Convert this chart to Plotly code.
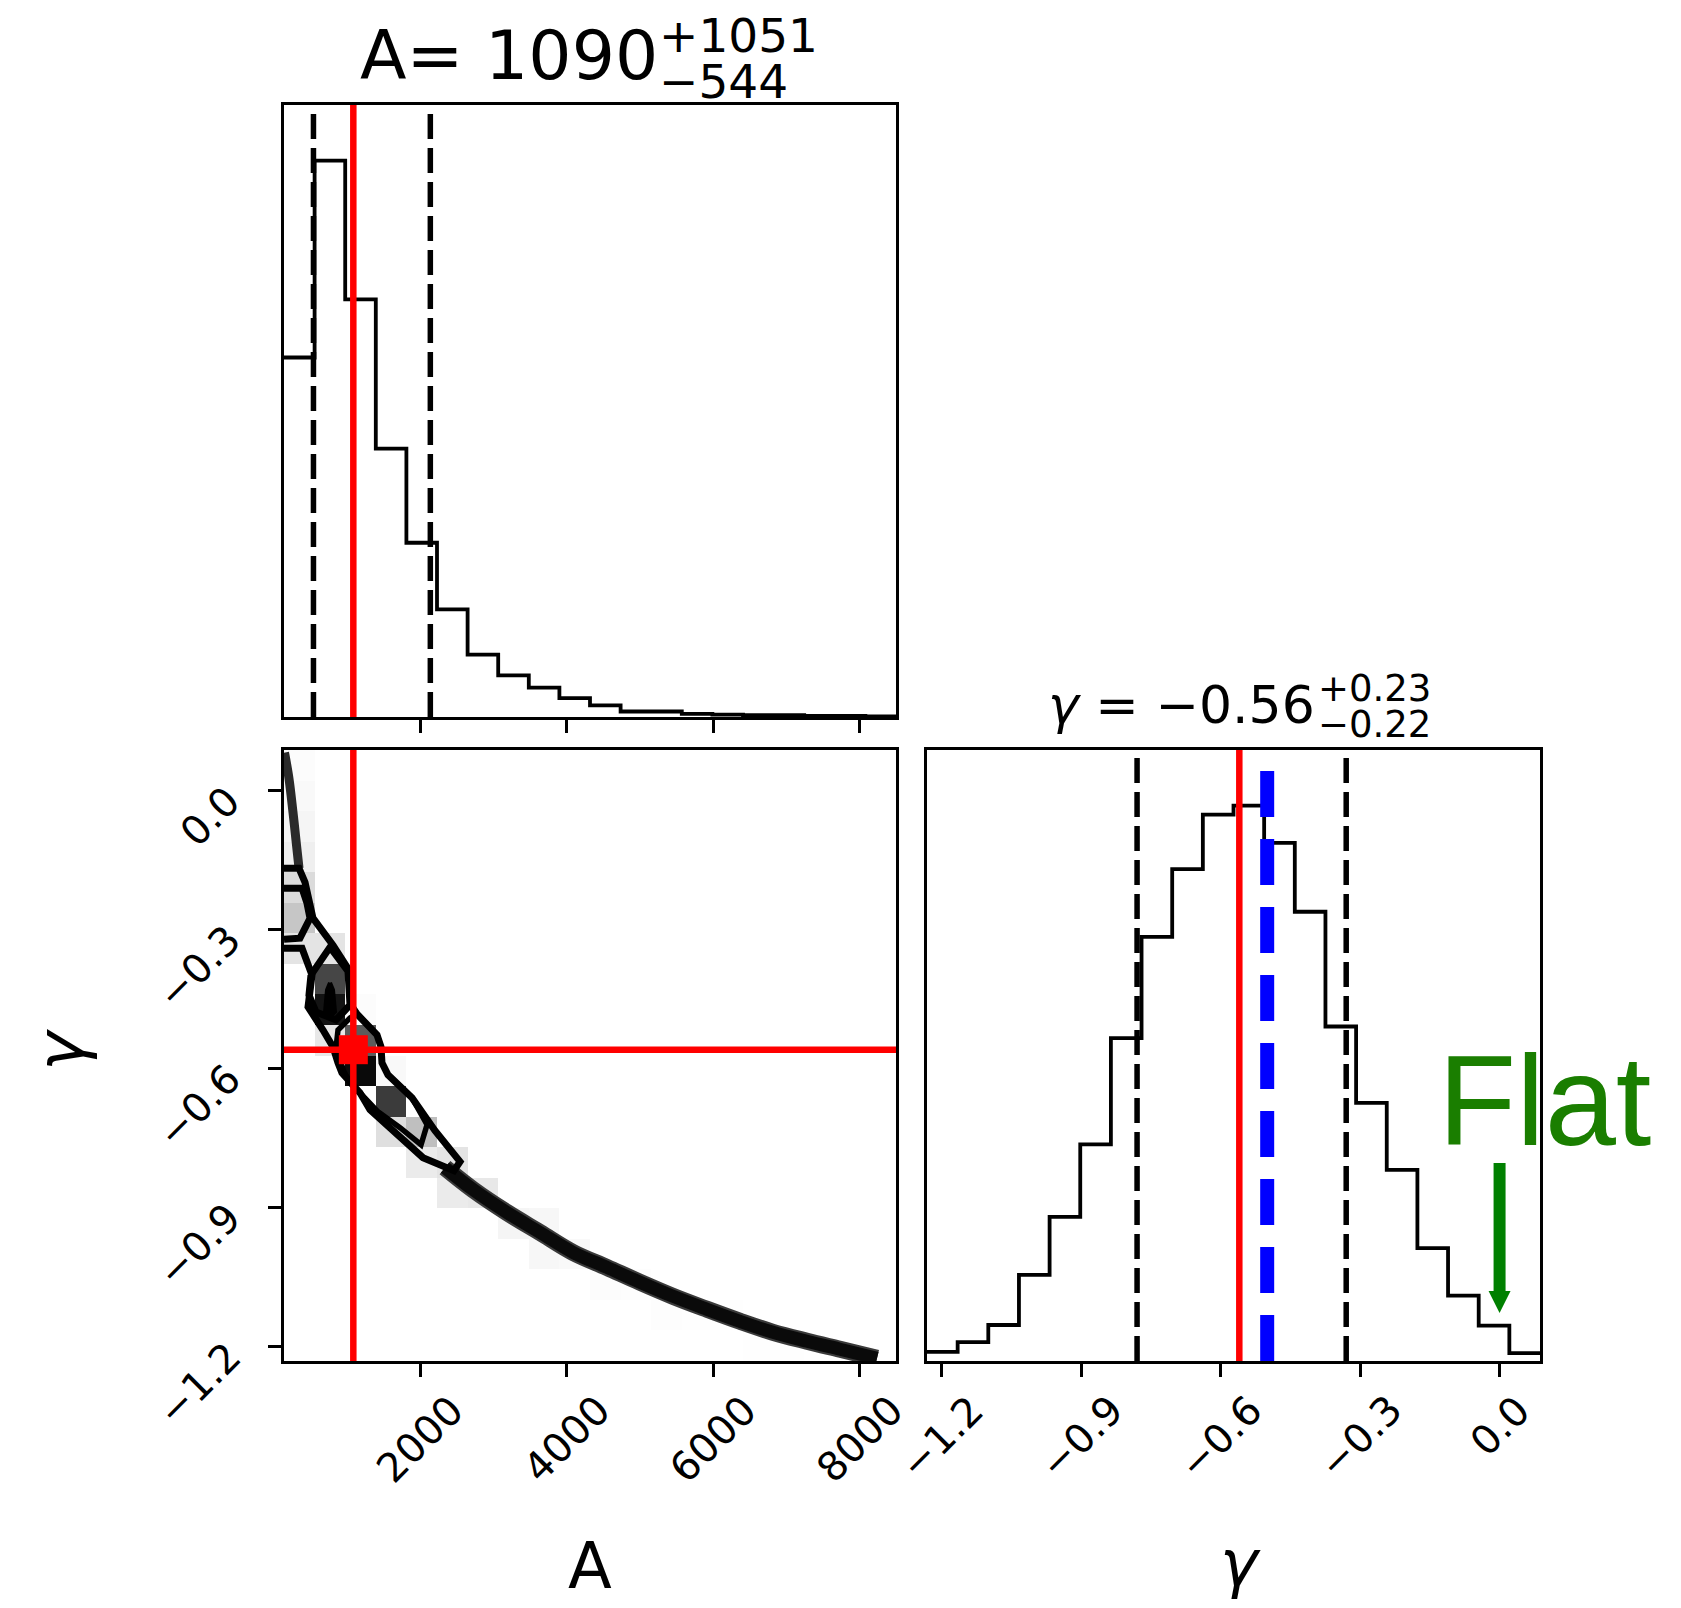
import numpy as np
import plotly.graph_objects as go

# ---------------- data ----------------
A_RANGE = [144, 8496]
G_RANGE = [-1.232, 0.087]
N_BINS = 20

A_hist_counts = [588, 910, 683, 439, 285, 176, 102, 68, 48, 31, 19, 9, 9, 5, 4, 3, 3, 2, 2, 1]
g_hist_counts = [15, 31, 59, 141, 236, 355, 529, 695, 806, 895, 910, 849, 736, 548, 423, 313, 185, 107, 58, 13]

A_best, A_err_lo, A_err_hi = 1090, 544, 1051
g_best, g_err_lo, g_err_hi = -0.56, 0.22, 0.23
g_blue = -0.50
g_flat = 0.0

A_ticks = [2000, 4000, 6000, 8000]
A_tick_labels = ["2000", "4000", "6000", "8000"]
g_ticks = [-1.2, -0.9, -0.6, -0.3, 0.0]
g_tick_labels = ["\u22121.2", "\u22120.9", "\u22120.6", "\u22120.3", "0.0"]

# 2D density cells (A bin index, gamma bin index from bottom, relative density)
cell_A_bin = [0, 0, 0, 0, 0, 0, 0, 1, 1, 1, 1, 2, 2, 2, 3, 3, 3, 4, 4, 5, 5, 6, 7, 8, 8, 9, 10, 11, 12, 13, 14, 15, 16]
cell_g_bin = [19, 18, 17, 16, 15, 14, 13, 13, 12, 11, 10, 11, 10, 9, 9, 8, 7, 7, 6, 6, 5, 5, 4, 4, 3, 3, 2, 2, 1, 1, 1, 0, 0]
cell_density = [0.10, 0.14, 0.20, 0.25, 0.37, 0.47, 0.32, 0.32, 0.85, 0.96, 0.30, 0.10, 0.80, 0.98,
                0.15, 0.875, 0.35, 0.50, 0.28, 0.32, 0.28, 0.30, 0.20, 0.17, 0.17, 0.14, 0.10, 0.08,
                0.07, 0.05, 0.04, 0.03, 0.03]

# sample band outside the contours
band_upper_A = [151, 212, 267, 315, 349]
band_upper_g = [0.0814, 0.0254, -0.0478, -0.1189, -0.1684]
band_lower_A = [2341, 2723, 3187, 3638, 4088, 4552, 5002, 5453, 5917, 6367, 6817, 7281, 7732, 8237]
band_lower_g = [-0.8146, -0.862, -0.9115, -0.9546, -0.9976, -1.030, -1.062, -1.0924, -1.1204,
                -1.1463, -1.170, -1.1893, -1.2066, -1.226]

# contour lines
contour_outer_A = [144, 349, 431, 485, 540, 813, 1031, 1058, 1140, 1413, 1468, 1481, 1563, 1891, 2068,
                   2205, 2546, 2464, 2041, 1618, 1318, 1181, 1004, 935, 881, 813, 676, 472, 526, 390, 144]
contour_outer_g = [-0.1684, -0.1684, -0.1986, -0.2309, -0.2761, -0.3343, -0.3881, -0.4635, -0.4829,
                   -0.5281, -0.5540, -0.5884, -0.6143, -0.6638, -0.7069, -0.7349, -0.8017, -0.8211,
                   -0.7931, -0.7327, -0.6897, -0.6531, -0.6251, -0.6100, -0.5884, -0.5540, -0.5174,
                   -0.4678, -0.3989, -0.3408, -0.3408]
contour_upper_A = [144, 390, 458, 499, 362, 144]
contour_upper_g = [-0.2115, -0.2115, -0.2438, -0.2761, -0.3192, -0.3214]
contour_core_A = [512, 772, 1017, 1045, 854, 581, 485, 512]
contour_core_g = [-0.3989, -0.3386, -0.3903, -0.4635, -0.4958, -0.4786, -0.4420, -0.3989]
contour_peak_A = [772, 813, 840, 772, 704, 731, 772]
contour_peak_g = [-0.4155, -0.4312, -0.4780, -0.4887, -0.4780, -0.4312, -0.4155]
contour_mid_A = [1140, 1413, 1468, 1481, 1563, 1891, 2096, 2014, 1727, 1427, 1208, 1045, 963, 908, 854,
                 881, 1045, 1140]
contour_mid_g = [-0.4829, -0.5281, -0.5540, -0.5884, -0.6143, -0.6638, -0.7220, -0.7651, -0.7284,
                 -0.6940, -0.6574, -0.6315, -0.6078, -0.5820, -0.5561, -0.5174, -0.4915, -0.4829]

# ---------------- figure ----------------
W, H = 1681, 1608
FONT = "DejaVu Sans"


def px_x(p):
    return p / W


def px_y(p):
    return 1 - p / H


dom_x_left = [px_x(284), px_x(896)]
dom_x_right = [px_x(927), px_x(1540)]
dom_y_top = [px_y(717), px_y(105)]
dom_y_bot = [px_y(1361), px_y(750)]

A_edges = np.linspace(A_RANGE[0], A_RANGE[1], N_BINS + 1)
g_edges = np.linspace(G_RANGE[0], G_RANGE[1], N_BINS + 1)
A_centers = 0.5 * (A_edges[:-1] + A_edges[1:])
g_centers = 0.5 * (g_edges[:-1] + g_edges[1:])

fig = go.Figure()

# top: A histogram
fig.add_trace(go.Scatter(x=A_edges, y=A_hist_counts + [A_hist_counts[-1]], mode="lines",
                         line=dict(color="black", width=3.8, shape="hv"),
                         xaxis="x", yaxis="y", hoverinfo="skip"))

# right: gamma histogram
fig.add_trace(go.Scatter(x=g_edges, y=g_hist_counts + [g_hist_counts[-1]], mode="lines",
                         line=dict(color="black", width=3.8, shape="hv"),
                         xaxis="x3", yaxis="y3", hoverinfo="skip"))

# 2D density
z = np.full((N_BINS, N_BINS), np.nan)
for i, j, h in zip(cell_A_bin, cell_g_bin, cell_density):
    z[j, i] = h
stops = np.linspace(0, 1, 11)
cscale = [[float(t), "rgb({0},{0},{0})".format(int(round(255 * (1 - t * t))))] for t in stops]
fig.add_trace(go.Heatmap(x=A_centers, y=g_centers, z=z, zmin=0, zmax=1, colorscale=cscale,
                         showscale=False, hoverinfo="skip", xaxis="x2", yaxis="y2"))

# sample band
fig.add_trace(go.Scatter(x=band_upper_A, y=band_upper_g, mode="lines",
                         line=dict(color="#2a2a2a", width=9, shape="spline"),
                         xaxis="x2", yaxis="y2", hoverinfo="skip"))
fig.add_trace(go.Scatter(x=band_lower_A, y=band_lower_g, mode="lines",
                         line=dict(color="#3a3a3a", width=17, shape="spline"),
                         xaxis="x2", yaxis="y2", hoverinfo="skip"))
fig.add_trace(go.Scatter(x=band_lower_A, y=band_lower_g, mode="lines",
                         line=dict(color="#0a0a0a", width=13, shape="spline"),
                         xaxis="x2", yaxis="y2", hoverinfo="skip"))

# contours
for cx, cy, wdt in [(contour_outer_A, contour_outer_g, 7),
                    (contour_upper_A, contour_upper_g, 7),
                    (contour_core_A, contour_core_g, 7),
                    (contour_mid_A, contour_mid_g, 5.5)]:
    fig.add_trace(go.Scatter(x=cx, y=cy, mode="lines", line=dict(color="black", width=wdt),
                             xaxis="x2", yaxis="y2", hoverinfo="skip"))
fig.add_trace(go.Scatter(x=contour_peak_A, y=contour_peak_g, mode="lines", fill="toself",
                         fillcolor="black", line=dict(color="black", width=4),
                         xaxis="x2", yaxis="y2", hoverinfo="skip"))

# best-fit marker
fig.add_trace(go.Scatter(x=[A_best], y=[g_best], mode="markers",
                         marker=dict(symbol="square", size=29, color="red"),
                         xaxis="x2", yaxis="y2", hoverinfo="skip"))

shapes = []


def vline(xref, yref, x, color, width, dash=None):
    ln = dict(color=color, width=width)
    if dash:
        ln["dash"] = dash
    return dict(type="line", xref=xref, yref=yref, x0=x, x1=x, y0=0, y1=1, line=ln, layer="above")


BDASH = "25px,9px"
# top panel lines
shapes.append(vline("x", "y domain", A_best - A_err_lo, "black", 5.5, BDASH))
shapes.append(vline("x", "y domain", A_best + A_err_hi, "black", 5.5, BDASH))
shapes.append(vline("x", "y domain", A_best, "red", 6.5))
# right panel lines
shapes.append(vline("x3", "y3 domain", g_best - g_err_lo, "black", 5.5, BDASH))
shapes.append(vline("x3", "y3 domain", g_best + g_err_hi, "black", 5.5, BDASH))
shapes.append(vline("x3", "y3 domain", g_best, "red", 6.5))
shapes.append(vline("x3", "y3 domain", g_blue, "blue", 14, "46px,22px"))
# 2D crosshair
shapes.append(vline("x2", "y2 domain", A_best, "red", 6.5))
shapes.append(dict(type="line", xref="x2 domain", yref="y2", x0=0, x1=1, y0=g_best, y1=g_best,
                   line=dict(color="red", width=6.5), layer="above"))
# Flat arrow
shapes.append(dict(type="line", xref="x3", yref="paper", x0=g_flat, x1=g_flat,
                   y0=px_y(1163), y1=px_y(1294), line=dict(color="green", width=12), layer="above"))
shapes.append(dict(type="path", xref="x3", xsizemode="pixel", xanchor=g_flat,
                   yref="paper", ysizemode="pixel", yanchor=px_y(1313),
                   path="M -11,22 L 11,22 L 0,0 Z", fillcolor="green",
                   line=dict(color="green", width=0), layer="above"))

ann = []


def text(t, x, y, size, xanchor="center", yanchor="middle", angle=0, color="black", family=FONT,
         xref="paper", yref="paper", yshift=0):
    ann.append(dict(text=t, x=x, y=y, xref=xref, yref=yref, showarrow=False, xanchor=xanchor,
                    yanchor=yanchor, textangle=angle, yshift=yshift,
                    font=dict(family=family, size=size, color=color)))


# titles
text("A= 1090", px_x(660), px_y(55.5), 68, xanchor="right")
text("+1051", px_x(657), px_y(36), 47, xanchor="left")
text("\u2212544", px_x(657), px_y(81), 47, xanchor="left")
text("<i>\u03b3</i> = \u22120.56", px_x(1317), px_y(705), 52, xanchor="right")
text("+0.23", px_x(1316), px_y(688.5), 37, xanchor="left")
text("\u22120.22", px_x(1316), px_y(724), 37, xanchor="left")

# axis labels
text("A", px_x(590), px_y(1566), 64)
text("<i>\u03b3</i>", px_x(1240), px_y(1564), 64)
text("<i>\u03b3</i>", px_x(60), px_y(1050), 66, angle=-90)

# tick labels
TK = 40
for v, lab in zip(A_ticks, A_tick_labels):
    text(lab, v, px_y(1384), TK, xanchor="center", yanchor="top", angle=-45, xref="x2")
for v, lab in zip(g_ticks, g_tick_labels):
    text(lab, v, px_y(1384), TK, xanchor="center", yanchor="top", angle=-45, xref="x3")
for v, lab in zip(g_ticks, g_tick_labels):
    text(lab, px_x(252), v, TK, xanchor="right", yanchor="top", angle=-45, yref="y2", yshift=16)

# Flat
text("Flat", px_x(1544.5), px_y(1100.6), 128, color="rgb(26,126,0)",
     family="Liberation Sans, Arial, Helvetica")

axis_common = dict(showline=True, mirror=True, linecolor="black", linewidth=3, showgrid=False,
                   zeroline=False, ticks="outside", ticklen=13, tickwidth=2.8, tickcolor="black",
                   showticklabels=False, fixedrange=True)

fig.update_layout(
    width=W, height=H, margin=dict(l=0, r=0, t=0, b=0),
    paper_bgcolor="white", plot_bgcolor="white", showlegend=False,
    xaxis=dict(domain=dom_x_left, range=A_RANGE, anchor="y", tickvals=A_ticks, **axis_common),
    yaxis=dict(domain=dom_y_top, range=[0, 1.1 * max(A_hist_counts)], anchor="x",
               **{**axis_common, "ticks": ""}),
    xaxis2=dict(domain=dom_x_left, range=A_RANGE, anchor="y2", tickvals=A_ticks, **axis_common),
    yaxis2=dict(domain=dom_y_bot, range=G_RANGE, anchor="x2", tickvals=g_ticks, **axis_common),
    xaxis3=dict(domain=dom_x_right, range=G_RANGE, anchor="y3", tickvals=g_ticks, **axis_common),
    yaxis3=dict(domain=dom_y_bot, range=[0, 1.1 * max(g_hist_counts)], anchor="x3",
                **{**axis_common, "ticks": ""}),
    shapes=shapes, annotations=ann,
)

fig.write_html("out.html")
